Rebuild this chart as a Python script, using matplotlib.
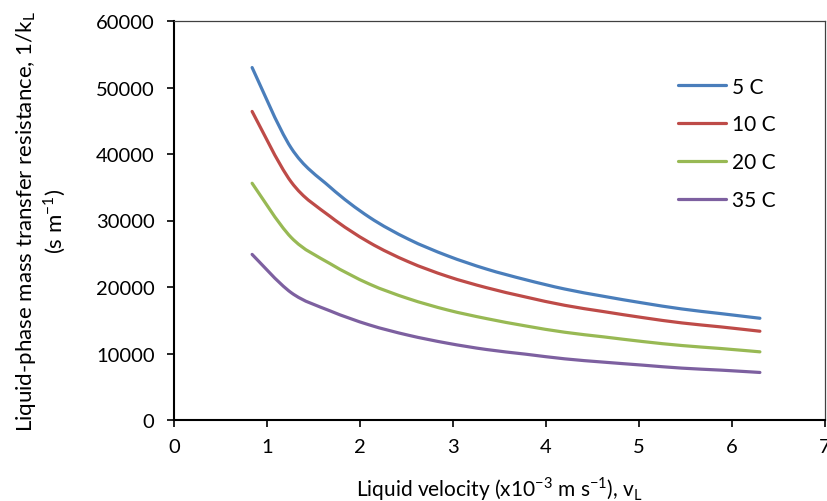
import numpy as np
import matplotlib
matplotlib.use('Agg')
import matplotlib.pyplot as plt
from matplotlib.path import Path
from matplotlib.patches import PathPatch
from matplotlib.lines import Line2D

# liquid velocity (x10^-3 m/s)
velocity = [0.84, 1.26, 1.68, 2.10, 2.52, 2.94, 3.36, 3.78, 4.20, 4.62, 5.04, 5.46, 5.88, 6.30]

# 1/kL (s/m) per temperature
res_5c = [53000, 40900, 35000, 30500, 27200, 24700, 22700, 21100, 19700, 18600, 17600, 16700, 16000, 15300]
res_10c = [46400, 35800, 30600, 26700, 23800, 21600, 19900, 18500, 17250, 16300, 15400, 14600, 14000, 13350]
res_20c = [35600, 27450, 23500, 20450, 18250, 16550, 15250, 14150, 13200, 12500, 11800, 11200, 10750, 10250]
res_35c = [24900, 19150, 16400, 14300, 12750, 11550, 10600, 9900, 9200, 8700, 8250, 7800, 7500, 7150]

labels = ['5 C', '10 C', '20 C', '35 C']
colors = ['#4A7EBB', '#BE4B48', '#98B954', '#7D60A0']

plt.rcParams['font.family'] = ['Lato', 'DejaVu Sans']
plt.rcParams['mathtext.fontset'] = 'custom'
plt.rcParams['mathtext.rm'] = 'Lato'


def smooth_path(x, y):
    # excel style smoothed line (catmull-rom -> cubic bezier)
    pts = np.column_stack([x, y]).astype(float)
    n = len(pts)
    verts = [pts[0]]
    codes = [Path.MOVETO]
    for i in range(n - 1):
        p0 = pts[max(i - 1, 0)]
        p1 = pts[i]
        p2 = pts[i + 1]
        p3 = pts[min(i + 2, n - 1)]
        verts += [p1 + (p2 - p0) / 6, p2 - (p3 - p1) / 6, p2]
        codes += [Path.CURVE4] * 3
    return Path(verts, codes)


fig = plt.figure(figsize=(8.27, 5.02), dpi=100)
ax = fig.add_axes([174 / 827, 1 - 421 / 502, 651 / 827, 399 / 502])

handles = []
for ys, lab, c in zip([res_5c, res_10c, res_20c, res_35c], labels, colors):
    ax.add_patch(PathPatch(smooth_path(velocity, ys), fill=False, edgecolor=c,
                           lw=2.3, capstyle='round', joinstyle='round'))
    handles.append(Line2D([], [], color=c, lw=2.3, solid_capstyle='round'))

ax.set_xlim(0, 7)
ax.set_ylim(0, 60000)
ax.set_xticks(range(0, 8))
ax.set_yticks(range(0, 60001, 10000))

for s in ['left', 'bottom']:
    ax.spines[s].set_linewidth(1.5)
    ax.spines[s].set_color('black')
for s in ['top', 'right']:
    ax.spines[s].set_linewidth(0.9)
    ax.spines[s].set_color('#404040')

ax.tick_params(axis='both', direction='out', length=5, width=1.2, labelsize=14.5)
ax.tick_params(axis='y', pad=9)
ax.tick_params(axis='x', pad=8)

ax.set_ylabel('Liquid-phase mass transfer resistance, 1/k$_\\mathregular{L}$\n(s m$^\\mathregular{-1}$)',
              fontsize=16, labelpad=20, linespacing=1.2)
ax.set_xlabel('Liquid velocity (x10$^\\mathregular{-3}$ m s$^\\mathregular{-1}$), v$_\\mathregular{L}$',
              fontsize=15, labelpad=14)

ax.legend(handles, labels, loc='upper left', bbox_to_anchor=(659 / 827, 1 - 59 / 502),
          bbox_transform=fig.transFigure, frameon=False, fontsize=15,
          handlelength=2.3, handletextpad=0.3, labelspacing=0.85)

fig.savefig('out.png', dpi=100)
